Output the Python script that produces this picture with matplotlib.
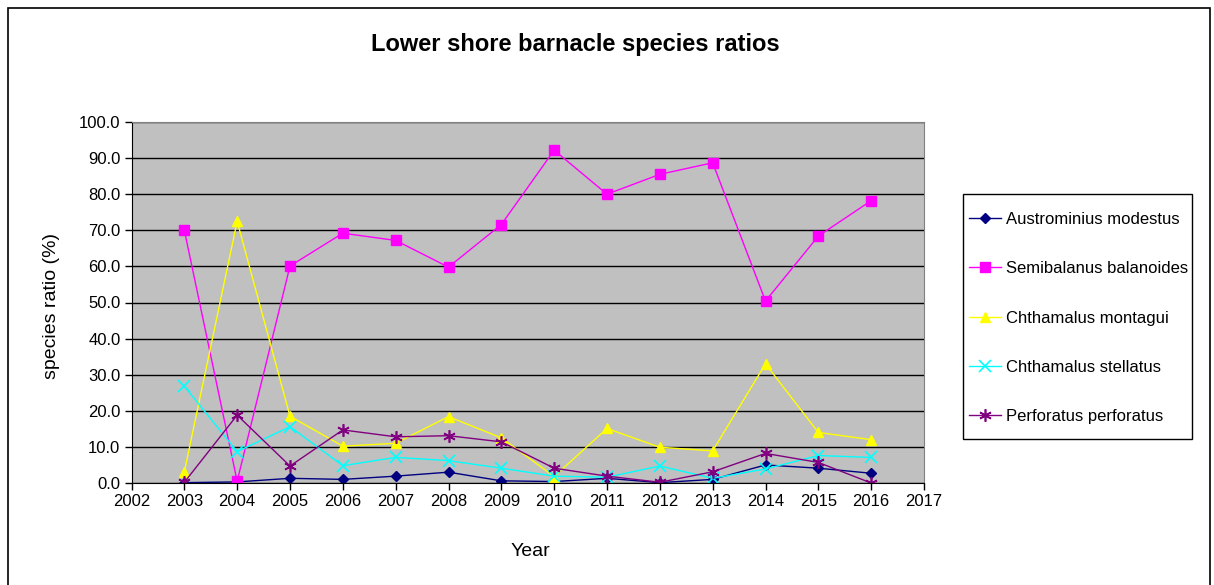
import matplotlib.pyplot as plt
from matplotlib.patches import Rectangle
from matplotlib.ticker import FormatStrFormatter

plt.rcParams['font.family'] = ['Liberation Sans', 'DejaVu Sans']

years = list(range(2003, 2017))
austrominius = [0.1, 0.3, 1.3, 1.0, 1.9, 3.0, 0.6, 0.4, 1.3, 0.1, 1.0, 5.0, 4.1, 2.7]
semibalanus = [70.0, 0.5, 60.1, 69.2, 67.2, 59.8, 71.6, 92.2, 80.0, 85.5, 88.7, 50.4, 68.4, 78.2]
montagui = [3.1, 72.5, 18.5, 10.2, 11.0, 18.4, 12.5, 1.8, 15.1, 9.9, 8.9, 33.0, 14.0, 12.0]
stellatus = [26.8, 8.7, 15.6, 4.8, 7.1, 6.2, 4.1, 1.9, 1.6, 4.7, 1.3, 3.9, 7.6, 7.1]
perforatus = [0.2, 18.8, 4.7, 14.7, 12.8, 13.1, 11.4, 4.1, 1.9, 0.2, 3.1, 8.2, 5.7, 0.0]

W, H = 1214, 585
fig = plt.figure(figsize=(W / 100, H / 100), dpi=100)
# outer chart border (bottom edge falls outside the picture) and legend box
fig.patches.append(Rectangle((8 / W, -0.02), 1202 / W, 1.02 - 8 / H, transform=fig.transFigure,
                             fill=False, edgecolor='black', linewidth=1.2))
fig.patches.append(Rectangle((962.7 / W, 1 - 439.3 / H), (1192 - 962.7) / W, (439.3 - 194.3) / H,
                             transform=fig.transFigure, fill=False, edgecolor='black', linewidth=1))

ax = fig.add_axes([131.5 / W, (H - 483) / H, (924 - 131.5) / W, (483 - 122) / H])
ax.set_facecolor('#C0C0C0')

ax.plot(years, austrominius, color='#000080', marker='D', markersize=5, linewidth=1, label='Austrominius modestus')
ax.plot(years, semibalanus, color='#FF00FF', marker='s', markersize=6.5, linewidth=1, label='Semibalanus balanoides')
ax.plot(years, montagui, color='#FFFF00', marker='^', markersize=7, linewidth=1, label='Chthamalus montagui')
ax.plot(years, stellatus, color='#00FFFF', marker='x', markersize=8, markeredgewidth=1.2, linewidth=1, label='Chthamalus stellatus')
ax.plot(years, perforatus, color='#800080', marker=(6, 2, 0), markersize=9, markeredgewidth=1.2, linewidth=1, label='Perforatus perforatus')

ax.set_xlim(2002, 2017)
ax.set_ylim(0, 100)
ax.set_xticks(range(2002, 2018))
ax.set_yticks(range(0, 101, 10))
ax.yaxis.set_major_formatter(FormatStrFormatter('%.1f'))
ax.grid(axis='y', color='black', linewidth=1)
ax.set_axisbelow(True)
ax.tick_params(direction='out', length=5, width=1, labelsize=12, pad=3)

for side in ['top', 'right']:
    ax.spines[side].set_color('#808080')
for side in ['left', 'bottom']:
    ax.spines[side].set_color('black')

ax.set_xlabel('Year', fontsize=14)
ax.xaxis.set_label_coords(0.503, -0.166)
ax.set_ylabel('species ratio (%)', fontsize=14)
ax.yaxis.set_label_coords(-0.0902, 0.49)
fig.text(575 / W, 1 - 45 / H, 'Lower shore barnacle species ratios', fontsize=17, fontweight='bold',
         ha='center', va='center')

leg = ax.legend(loc='center left', bbox_to_anchor=(969 / W, 1 - 318 / H), bbox_transform=fig.transFigure,
                fontsize=12, frameon=False, borderaxespad=0, borderpad=0, labelspacing=2.06,
                handlelength=1.92, handletextpad=0.3)

fig.savefig('out.png', dpi=100)
